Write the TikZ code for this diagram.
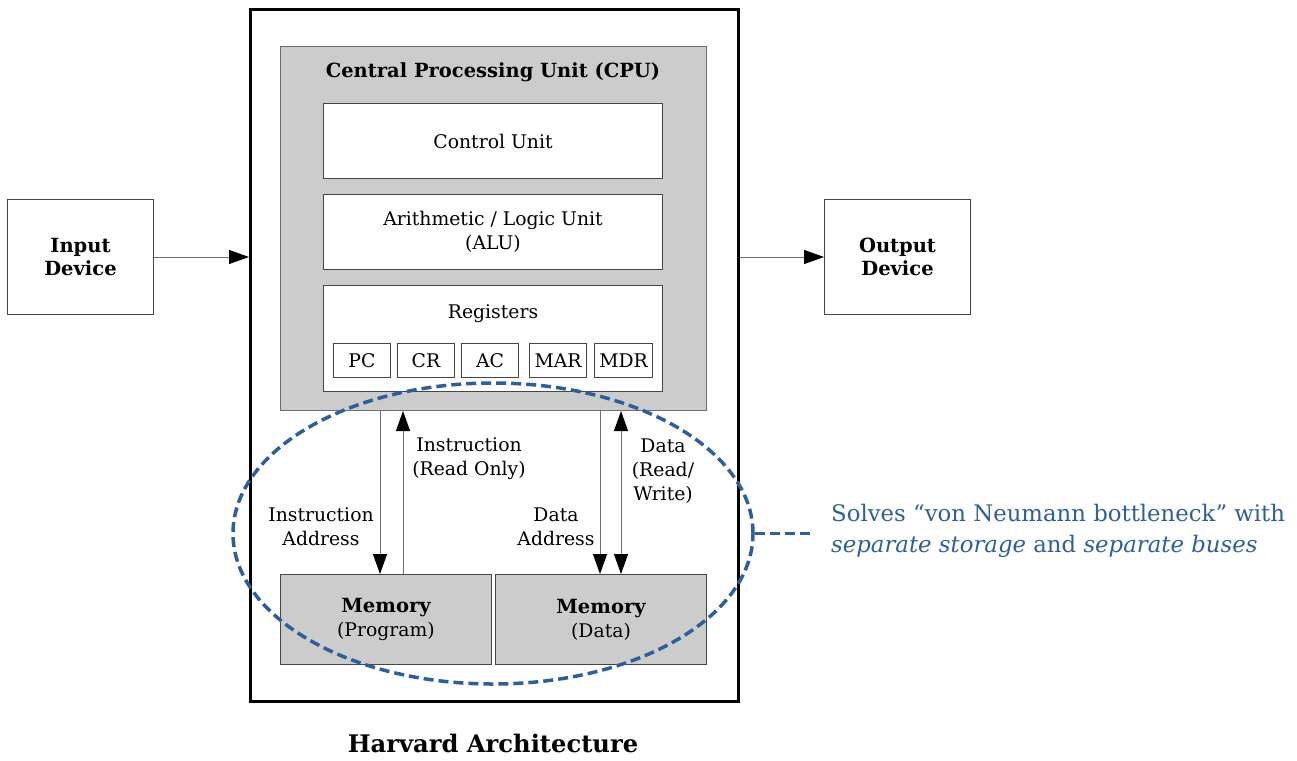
\documentclass[tikz,border=0pt]{standalone}
\usepackage{fontspec}
\setmainfont{DejaVu Serif}
\usetikzlibrary{arrows.meta,shapes.geometric}
\definecolor{cpugray}{RGB}{204,204,204}
\definecolor{bord}{RGB}{70,70,70}
\definecolor{linegray}{RGB}{110,110,110}
\definecolor{accent}{RGB}{46,95,155}
\newcommand{\fs}{\fontsize{18.8}{24}\selectfont}
\newcommand{\fsb}{\fontsize{19.5}{23.5}\selectfont\bfseries}
\begin{document}
\begin{tikzpicture}[x=1pt,y=-1pt,
  box/.style={draw=bord,line width=1pt,fill=white,inner sep=0pt,anchor=north west,align=center,font=\fs},
  graybox/.style={box,fill=cpugray},
  reg/.style={box,minimum width=57pt,minimum height=34pt},
  tip/.style={Triangle[length=20pt,width=14pt,color=black]},
  arr/.style={draw=linegray,line width=1pt,-{Triangle[length=20pt,width=14pt,color=black]}},
  barr/.style={draw=linegray,line width=1pt,{Triangle[length=20pt,width=14pt,color=black]}-{Triangle[length=20pt,width=14pt,color=black]}},
  lbl/.style={align=center,font=\fs,inner sep=0pt}]
\useasboundingbox (0,0) rectangle (1297,760);
% outer box
\node[draw=black,line width=3pt,minimum width=488pt,minimum height=692pt,inner sep=0pt,anchor=north west] (outer) at (249,8) {};
% CPU
\node[graybox,draw=linegray,minimum width=426pt,minimum height=364pt] (cpu) at (280,46) {};
\node[lbl,font=\fsb] (cputitle) at (493,72) {Central Processing Unit (CPU)};
\node[box,minimum width=339pt,minimum height=75pt] (cu) at (323,103) {Control Unit};
\node[box,minimum width=339pt,minimum height=75pt] (alu) at (323,194) {Arithmetic / Logic Unit\\(ALU)};
\node[box,minimum width=339pt,minimum height=106pt] (regs) at (323,285) {};
\node[lbl] (regt) at (493,314) {Registers};
\node[reg] (pc) at (333,343) {PC};
\node[reg] (cr) at (397,343) {CR};
\node[reg] (ac) at (461,343) {AC};
\node[reg] (mar) at (529,343) {MAR};
\node[reg,minimum width=58pt] (mdr) at (594,343) {MDR};
% memories
\node[graybox,minimum width=211pt,minimum height=90pt] (memp) at (280,574) {{\fsb Memory}\\(Program)};
\node[graybox,minimum width=211pt,minimum height=90pt] (memd) at (495,574) {{\fsb Memory}\\(Data)};
% bus coordinates
\coordinate (xia) at (380,0);
\coordinate (xir) at (403,0);
\coordinate (xda) at (600,0);
\coordinate (xdr) at (621,0);
\draw[arr] (cpu.south -| xia) -- (memp.north -| xia);
\draw[arr] (memp.north -| xir) -- (cpu.south -| xir);
\draw[arr] (cpu.south -| xda) -- (memd.north -| xda);
\draw[barr] (memd.north -| xdr) -- (cpu.south -| xdr);
\node[lbl] (lia) at (321,527) {Instruction\\Address};
\node[lbl] (lir) at (469,459) {Instruction\\(Read Only)};
\node[lbl] (lda) at (556,527) {Data\\Address};
\node[lbl] (ldr) at (663,471) {Data\\(Read/\\Write)};
% input / output
\node[box,minimum width=146pt,minimum height=115pt,font=\fsb] (in) at (7,199) {Input\\Device};
\node[box,minimum width=146pt,minimum height=115pt,font=\fsb] (out) at (824,199) {Output\\Device};
\draw[arr] (in.east) -- (in.east -| outer.west);
\draw[arr] (out.west -| outer.east) -- (out.west);
% ellipse annotation
\node[draw=accent,line width=3.5pt,dash pattern=on 10pt off 5pt,ellipse,minimum width=520pt,minimum height=301pt,inner sep=0pt] (ell) at (493,533.5) {};
\coordinate (dashend) at (812,533.5);
\draw[accent,line width=3.5pt,dash pattern=on 10pt off 5pt] (ell.east) -- (dashend);
\node[lbl,anchor=west,align=left,text=accent,font=\fontsize{22.8}{31}\selectfont] (note) at (831,531) {Solves “von Neumann bottleneck” with\\\textit{separate storage} and \textit{separate buses}};
% title
\node[lbl,font=\fontsize{24.2}{28}\selectfont\bfseries] (title) at (493,743) {Harvard Architecture};
\end{tikzpicture}
\end{document}
